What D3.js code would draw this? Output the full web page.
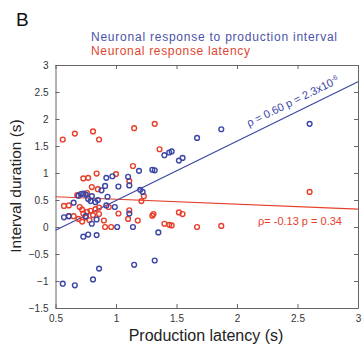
<!DOCTYPE html>
<html>
<head>
<meta charset="utf-8">
<script src="https://cdn.jsdelivr.net/npm/d3@7"></script>
<style>
  body { margin: 0; background: #fff; }
  svg { font-family: "Liberation Sans", Arial, sans-serif; }
</style>
</head>
<body>
<svg width="364" height="353"></svg>
<script>
// x = production latency (s), y = interval duration (s)
var bluePoints = [
  [0.56,-1.05],[0.66,-1.08],[0.81,-0.97],[0.86,-0.77],[1.15,-0.70],[1.32,-0.62],
  [0.73,-0.18],[0.77,-0.14],[0.84,-0.15],[1.35,-0.10],[1.14,0.0],[1.01,0.0],[0.80,0.06],
  [0.57,0.18],[0.61,0.20],[0.84,0.14],[0.75,0.20],[1.11,0.25],
  [0.65,0.45],[0.69,0.58],[0.71,0.61],[0.73,0.62],[0.75,0.60],[0.77,0.52],[0.79,0.48],
  [0.80,0.57],[0.83,0.46],[0.85,0.50],[0.88,0.68],[0.91,0.76],[0.92,0.91],[0.97,0.94],
  [0.93,0.56],[0.92,0.40],[0.99,0.37],[1.02,0.75],[1.10,0.93],[1.11,0.77],[1.19,1.04],
  [1.20,0.69],[1.22,0.65],[1.30,1.06],[1.32,1.05],[1.40,1.33],[1.44,1.38],[1.46,1.40],
  [1.52,1.23],[1.55,1.28],[1.67,1.65],[1.87,1.81],[2.60,1.91]
];
var redPoints = [
  [0.56,1.62],[0.66,1.73],[0.81,1.77],[0.86,1.62],[1.15,1.83],[1.32,1.91],[1.36,1.44],
  [0.73,0.90],[0.77,0.91],[0.84,0.99],[1.00,0.98],[1.14,1.13],[1.11,0.85],[0.80,0.74],
  [0.85,0.70],[1.23,0.57],[1.21,0.48],[0.57,0.39],[0.61,0.40],[0.61,0.20],[0.65,0.20],
  [0.68,0.59],[0.76,0.63],[0.70,0.37],[0.72,0.32],[0.73,0.25],[0.76,0.28],[0.79,0.30],
  [0.83,0.33],[0.86,0.36],[0.69,0.15],[0.72,0.10],[0.75,0.18],[0.78,0.13],[0.81,0.22],
  [0.86,0.24],[0.90,0.12],[0.94,0.37],[0.91,0.0],[0.96,0.0],[1.02,0.25],[1.10,0.15],
  [1.11,0.31],[1.18,0.12],[1.30,0.21],[1.31,0.24],[1.40,0.06],[1.44,0.04],[1.46,0.03],
  [1.52,0.27],[1.55,0.24],[1.67,0.0],[1.87,0.02],[2.60,0.65]
];
// regression line end points
var blueFit = [[0.5,-0.06],[3,2.69]];
var redFit = [[0.5,0.56],[3,0.33]];
var xTicks = [0.5, 1, 1.5, 2, 2.5, 3];
var yTicks = [-1.5, -1, -0.5, 0, 0.5, 1, 1.5, 2, 2.5, 3];

var blue = "#3b46a6", red = "#e6402b";
var svg = d3.select("svg");

var x = d3.scaleLinear().domain([0.5, 3]).range([55.5, 358]);
var y = d3.scaleLinear().domain([-1.5, 3]).range([308, 65]);

// axes, matlab style box with inward ticks
function styleAxis(g) {
  g.select(".domain").attr("stroke", "#666");
  g.selectAll(".tick line").attr("stroke", "#666");
  g.selectAll(".tick text").attr("fill", "#333").attr("font-size", 10);
}
svg.append("g").attr("transform", "translate(0,308)")
  .call(d3.axisBottom(x).tickValues(xTicks).tickSize(-4).tickPadding(7).tickSizeOuter(0).tickFormat(d3.format("")))
  .call(styleAxis);
svg.append("g").attr("transform", "translate(0,65)")
  .call(d3.axisTop(x).tickValues(xTicks).tickSize(-4).tickSizeOuter(0).tickFormat(""))
  .call(styleAxis);
svg.append("g").attr("transform", "translate(55.5,0)")
  .call(d3.axisLeft(y).tickValues(yTicks).tickSize(-4).tickPadding(7).tickSizeOuter(0).tickFormat(d3.format("")))
  .call(styleAxis);
svg.append("g").attr("transform", "translate(358,0)")
  .call(d3.axisRight(y).tickValues(yTicks).tickSize(-4).tickSizeOuter(0).tickFormat(""))
  .call(styleAxis);

var line = d3.line().x(d => x(d[0])).y(d => y(d[1]));
svg.append("path").datum(redFit).attr("d", line).attr("stroke", red).attr("stroke-width", 1.2).attr("fill", "none");
svg.append("path").datum(blueFit).attr("d", line).attr("stroke", blue).attr("stroke-width", 1.2).attr("fill", "none");

svg.append("g").selectAll("circle").data(redPoints).enter().append("circle")
  .attr("cx", d => x(d[0])).attr("cy", d => y(d[1])).attr("r", 2.4)
  .attr("fill", "none").attr("stroke", red).attr("stroke-width", 1.4);
svg.append("g").selectAll("circle").data(bluePoints).enter().append("circle")
  .attr("cx", d => x(d[0])).attr("cy", d => y(d[1])).attr("r", 2.4)
  .attr("fill", "none").attr("stroke", blue).attr("stroke-width", 1.4);

// annotations
var ang = Math.atan2(y(blueFit[0][1]) - y(blueFit[1][1]), x(blueFit[1][0]) - x(blueFit[0][0])) * 180 / Math.PI;
var bt = svg.append("text").attr("transform", "translate(249,127) rotate(" + (-ang) + ")")
  .attr("fill", blue).attr("font-size", 11);
bt.append("tspan").text("\u03c1 = 0.60 p = 2.3x10");
bt.append("tspan").attr("dy", -4).attr("font-size", 7).text("-6");

svg.append("text").attr("x", 258).attr("y", 225).attr("fill", red).attr("font-size", 11)
  .text("\u03c1= -0.13 p = 0.34");

// titles
svg.append("text").attr("x", 16).attr("y", 26).attr("font-size", 19).attr("fill", "#111").text("B");
svg.append("text").attr("x", 91).attr("y", 41).attr("font-size", 12)
  .attr("textLength", 246).attr("lengthAdjust", "spacing").attr("fill", "#4a52a8")
  .text("Neuronal response to production interval");
svg.append("text").attr("x", 91).attr("y", 55).attr("font-size", 12)
  .attr("textLength", 159).attr("lengthAdjust", "spacing").attr("fill", "#e0462f")
  .text("Neuronal response latency");
svg.append("text").attr("x", 206).attr("y", 341).attr("text-anchor", "middle")
  .attr("font-size", 16).attr("fill", "#222").text("Production latency (s)");
svg.append("text").attr("transform", "translate(21,186) rotate(-90)").attr("text-anchor", "middle")
  .attr("font-size", 15.5).attr("fill", "#222").text("Interval duration (s)");
</script>
</body>
</html>
